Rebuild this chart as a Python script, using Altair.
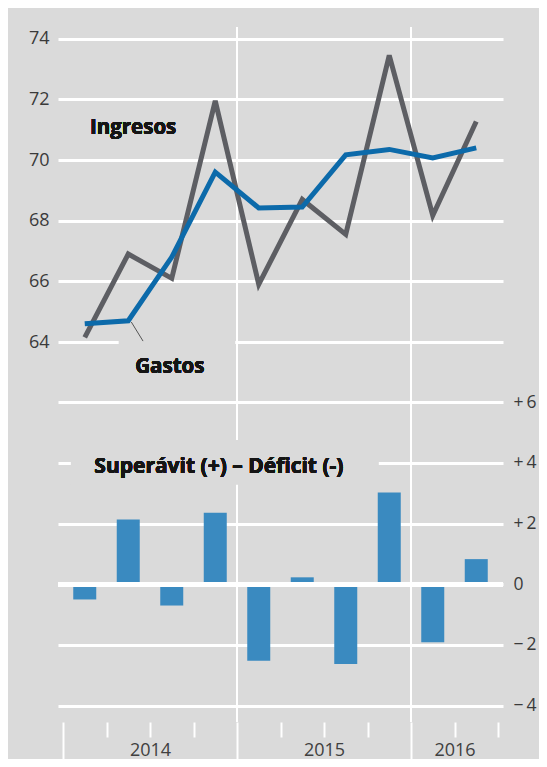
import altair as alt
import pandas as pd

# ---- data ----
quarters = ["2014-T1", "2014-T2", "2014-T3", "2014-T4",
            "2015-T1", "2015-T2", "2015-T3", "2015-T4",
            "2016-T1", "2016-T2"]
ingresos = [64.15, 66.9, 66.1, 71.95, 65.9, 68.7, 67.55, 73.45, 68.17, 71.27]
gastos = [64.6, 64.7, 66.8, 69.6, 68.42, 68.45, 70.17, 70.35, 70.07, 70.4]
saldo = [-0.5, 2.14, -0.7, 2.36, -2.52, 0.23, -2.63, 3.03, -1.91, 0.83]
year_labels = {2: "2014", 6: "2015", 9: "2016"}
year_breaks = [4, 8]
left_ticks = [64, 66, 68, 70, 72, 74]
right_ticks = [-4, -2, 0, 2, 4, 6]

df = pd.DataFrame({
    "idx": list(range(len(quarters))),
    "trimestre": quarters,
    "Ingresos": ingresos,
    "Gastos": gastos,
    "Saldo": saldo,
})
long = df.melt(id_vars=["idx", "trimestre"], value_vars=["Ingresos", "Gastos"],
               var_name="serie", value_name="valor")

BG = "#dadada"
FONT = "Open Sans"
AX_FS = 18
ANN_FS = 20.5

label_expr = " : ".join(f"datum.value == {k} ? '{v}'" for k, v in year_labels.items()) + " : ''"
xscale = alt.Scale(domain=[0, 10], nice=False, zero=False)
xaxis = alt.Axis(values=list(range(11)), labelExpr=label_expr, grid=False, domain=False,
                 tickColor="white", tickWidth=2,
                 tickSize={"condition": {"test": "datum.value % 4 === 0", "value": 40}, "value": 15},
                 labelPadding=4, labelFontSize=AX_FS, labelColor="#404040", labelFont=FONT,
                 labelOverlap=False, labelFlush=False, labelBound=False, title=None)


def X(field, **kw):
    return alt.X(field, type="quantitative", scale=xscale, axis=xaxis, **kw)


left_scale = alt.Scale(domain=[51.471, 74.386], nice=False, zero=False)
right_scale = alt.Scale(domain=[-4.540, 18.374], nice=False, zero=False)

left_axis = alt.Axis(values=left_ticks, orient="left", grid=True, gridColor="white", gridWidth=3,
                     ticks=False, domain=False, labelPadding=9, labelFontSize=AX_FS,
                     labelColor="#3a3a3a", labelFont=FONT, title=None)
right_expr = ("datum.value > 0 ? '+\u2009' + datum.value : "
              "(datum.value < 0 ? '\u2212\u2009' + abs(datum.value) : '0')")
right_axis = alt.Axis(values=right_ticks, orient="right", grid=True, gridColor="white", gridWidth=3,
                      ticks=False, domain=False, labelPadding=10, labelFontSize=17.5,
                      labelColor="#3a3a3a", labelFont=FONT, labelExpr=right_expr, title=None)

# ---------------- right (bars) group ----------------
rules = alt.Chart(pd.DataFrame({"b": year_breaks})).mark_rule(color="white", strokeWidth=2).encode(
    x=X("b:Q"))

title_mask = alt.Chart(pd.DataFrame({"x0": [0.18], "x1": [7.26], "y0": [3.28], "y1": [4.76]})).mark_rect(
    color=BG).encode(
    x=X("x0:Q"), x2="x1:Q",
    y=alt.Y("y0:Q", scale=right_scale, axis=right_axis), y2="y1:Q")

bars = alt.Chart(df).mark_bar(color="#3a8ac0", size=23).transform_calculate(
    xc="datum.idx + 0.5").encode(
    x=X("xc:Q"),
    y=alt.Y("Saldo:Q", scale=right_scale, axis=right_axis))

zero = alt.Chart(df).mark_rule(color="white", strokeWidth=4.5).encode(
    y=alt.datum(0, scale=right_scale, axis=right_axis))

title = alt.Chart(df).mark_text(text="Superávit (+) – Déficit (-)", align="left", baseline="middle",
                                font=FONT, fontSize=21, fontWeight="bold", color="#151515").encode(
    x=alt.datum(0.72, scale=xscale, axis=xaxis),
    y=alt.datum(3.87, scale=right_scale, axis=right_axis))

right_group = alt.layer(rules, title_mask, bars, zero, title)

# ---------------- left (lines) group ----------------
gastos_mask = alt.Chart(pd.DataFrame({"x0": [1.28], "x1": [3.96], "y0": [62.58], "y1": [64.08]})).mark_rect(
    color=BG).encode(
    x=X("x0:Q"), x2="x1:Q",
    y=alt.Y("y0:Q", scale=left_scale, axis=left_axis), y2="y1:Q")

lines = alt.Chart(long).mark_line(strokeWidth=5, strokeJoin="miter").transform_calculate(
    xc="datum.idx + 0.5").encode(
    x=X("xc:Q"),
    y=alt.Y("valor:Q", scale=left_scale, axis=left_axis),
    color=alt.Color("serie:N", scale=alt.Scale(domain=["Ingresos", "Gastos"],
                                               range=["#5d5e63", "#0c6aaa"]), legend=None),
    order="idx:Q")

leader = alt.Chart(pd.DataFrame({"x0": [1.57], "x1": [1.84], "y0": [64.66], "y1": [64.03]})).mark_rule(
    color="#555555", strokeWidth=1).encode(
    x=X("x0:Q"), x2="x1:Q",
    y=alt.Y("y0:Q", scale=left_scale, axis=left_axis), y2="y1:Q")

lab_ing = alt.Chart(df).mark_text(text="Ingresos", align="left", baseline="middle",
                                  font=FONT, fontSize=ANN_FS, fontWeight="bold", color="#151515").encode(
    x=alt.datum(0.62, scale=xscale, axis=xaxis),
    y=alt.datum(71.06, scale=left_scale, axis=left_axis))
lab_gas = alt.Chart(df).mark_text(text="Gastos", align="left", baseline="middle",
                                  font=FONT, fontSize=ANN_FS, fontWeight="bold", color="#151515").encode(
    x=alt.datum(1.66, scale=xscale, axis=xaxis),
    y=alt.datum(63.18, scale=left_scale, axis=left_axis))

left_group = alt.layer(gastos_mask, lines, leader, lab_ing, lab_gas)

chart = alt.layer(right_group, left_group).resolve_scale(y="independent").properties(
    width=445, height=695,
    autosize=alt.AutoSizeParams(type="none"),
    padding={"left": 50, "top": 19, "right": 36, "bottom": 37},
    background=BG,
).configure_view(stroke=None)

chart.save("out.html", embed_options={"renderer": "svg", "actions": False})
